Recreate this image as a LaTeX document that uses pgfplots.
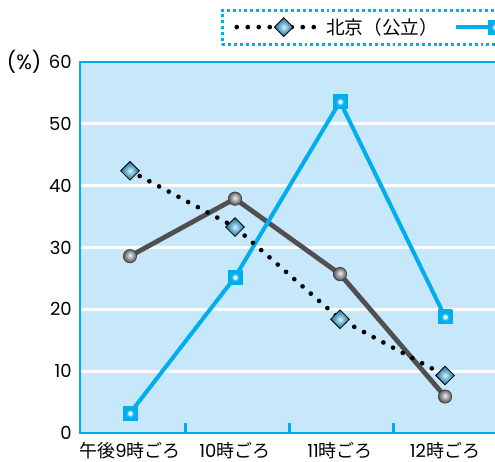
\documentclass[border=0pt]{standalone}
\usepackage{fontspec}
\setmainfont{Poppins}
\newfontfamily\cjkfont{Noto Sans CJK JP}
\newcommand\cjk[1]{{\cjkfont #1}}
\usepackage{pgfplots}
\pgfplotsset{compat=1.18}

\definecolor{skyline}{RGB}{0,174,239}
\definecolor{panel}{RGB}{199,232,250}
\definecolor{slate}{RGB}{80,80,80}
\definecolor{diaLight}{RGB}{225,242,250}
\definecolor{diaMid}{RGB}{105,175,205}
\definecolor{diaDark}{RGB}{30,110,150}
\definecolor{ballLight}{RGB}{240,240,240}
\definecolor{ballMid}{RGB}{160,160,160}
\definecolor{ballDark}{RGB}{85,85,85}
\definecolor{ballEdge}{RGB}{60,60,60}

% radial glows used inside the markers (the path's box spans +-25bp)
\pgfdeclareradialshading{glowsq}{\pgfpointorigin}{color(0bp)=(white); color(4bp)=(white); color(13bp)=(skyline); color(50bp)=(skyline)}
\pgfdeclareradialshading{glowdia}{\pgfpointorigin}{color(0bp)=(diaLight); color(12bp)=(diaMid); color(25bp)=(diaDark); color(50bp)=(diaDark)}
\pgfdeclareradialshading{glowball}{\pgfpoint{0bp}{4bp}}{color(0bp)=(ballLight); color(13bp)=(ballMid); color(25bp)=(ballDark); color(50bp)=(ballDark)}

\pgfdeclareplotmark{glowsquare}{%
  \pgfpathrectangle{\pgfqpoint{-5.2pt}{-5.2pt}}{\pgfqpoint{10.4pt}{10.4pt}}%
  \pgfshadepath{glowsq}{0}%
  \pgfpathrectangle{\pgfqpoint{-5.2pt}{-5.2pt}}{\pgfqpoint{10.4pt}{10.4pt}}%
  \pgfusepathqstroke}
\pgfdeclareplotmark{glowdiamond}{%
  \pgfpathmoveto{\pgfqpoint{0pt}{7pt}}\pgfpathlineto{\pgfqpoint{7pt}{0pt}}%
  \pgfpathlineto{\pgfqpoint{0pt}{-7pt}}\pgfpathlineto{\pgfqpoint{-7pt}{0pt}}\pgfpathclose
  \pgfshadepath{glowdia}{0}%
  \pgfpathmoveto{\pgfqpoint{0pt}{7pt}}\pgfpathlineto{\pgfqpoint{7pt}{0pt}}%
  \pgfpathlineto{\pgfqpoint{0pt}{-7pt}}\pgfpathlineto{\pgfqpoint{-7pt}{0pt}}\pgfpathclose
  \pgfusepathqstroke}
\pgfdeclareplotmark{glowball}{%
  \pgfpathcircle{\pgfpointorigin}{5pt}%
  \pgfshadepath{glowball}{0}%
  \pgfpathcircle{\pgfpointorigin}{5pt}%
  \pgfusepathqstroke}

\pgfplotsset{
  publicline/.style={black, solid, line width=3.5pt, line cap=round,
    dash pattern=on 0pt off 8.25pt, mark=glowdiamond,
    mark options={solid, draw=black, line width=0.6pt}},
  cyanline/.style={skyline, solid, line width=3pt, mark=glowsquare,
    mark options={solid, draw=skyline, line width=0.4pt}},
  grayline/.style={slate, solid, line width=3.6pt, mark=glowball,
    mark options={solid, draw=ballEdge, line width=0.5pt}},
  % legend samples: a short line with the marker placed along it
  legimg/.style 2 args={legend image code/.code={%
    \draw[##1, mark repeat=3, mark phase=2] plot coordinates {(0pt,0pt) (#1,0pt) (#2,0pt)};}},
}

\begin{document}
\begin{tikzpicture}
\path[use as bounding box] (-60pt,-21pt) rectangle (311.25pt,324.75pt);
\clip (-60pt,-21pt) rectangle (311.25pt,324.75pt);
\begin{axis}[
  at={(0pt,0pt)}, anchor=south west,
  scale only axis, width=312.75pt, height=278.25pt,
  xmin=-0.476, xmax=3.495, ymin=0, ymax=60,
  axis background/.style={fill=panel},
  axis line style={skyline, line width=2.2pt},
  xtick={0,1,2,3},
  xticklabels={\cjk{午後}9\cjk{時ごろ}, 10\cjk{時ごろ}, 11\cjk{時ごろ}, 12\cjk{時ごろ}},
  minor xtick={0.53,1.52,2.51},
  ytick={0,10,...,60},
  xtick pos=lower, ytick pos=left,
  tick align=inside,
  major tick length=0pt,
  minor tick length=7.5pt,
  every minor tick/.append style={skyline, line width=2pt},
  ymajorgrids,
  major grid style={white, line width=2.2pt},
  /pgf/number format/assume math mode=true,
  every tick label/.append style={font=\fontsize{13.5pt}{15pt}\selectfont},
  yticklabel style={inner sep=0pt, xshift=-6pt},
  xticklabel style={inner sep=0pt, yshift=-7pt},
  legend columns=-1,
  legend style={
    at={(axis description cs:0.338,1.144)}, anchor=north west,
    draw=skyline, line width=2.2pt, dash pattern=on 2.2pt off 2.2pt,
    fill=white, inner xsep=9pt, inner ysep=5.8pt,
    nodes={inner sep=0pt, anchor=west},
    font=\fontsize{14pt}{16pt}\selectfont\cjkfont,
    /tikz/every odd column/.append style={column sep=7.5pt},
    /tikz/every even column/.append style={column sep=12pt},
  },
  after end axis/.code={%
    \node[anchor=east, inner sep=0pt, font=\fontsize{15.5pt}{17pt}\selectfont]
      at (rel axis cs:-0.092,1) {(\%)};},
]
% data series, drawn back to front
\addplot[grayline, forget plot] coordinates {(0,28.6) (1,37.9) (2,25.7) (3,5.9)};
\addplot[cyanline, forget plot] coordinates {(0,3.2) (1,25.2) (2,53.6) (3,18.8)};
\addplot[publicline, forget plot] coordinates {(0,42.4) (1,33.3) (2,18.4) (3,9.3)};

% legend entries
\addlegendimage{publicline, legimg={35.25pt}{57.75pt}}
\addlegendentry{北京（公立）}
\addlegendimage{cyanline, legimg={29.25pt}{58.5pt}}
\addlegendentry{北京（私立）}
\addlegendimage{grayline, legimg={29.25pt}{58.5pt}}
\addlegendentry{東京}
\end{axis}
\end{tikzpicture}
\end{document}
